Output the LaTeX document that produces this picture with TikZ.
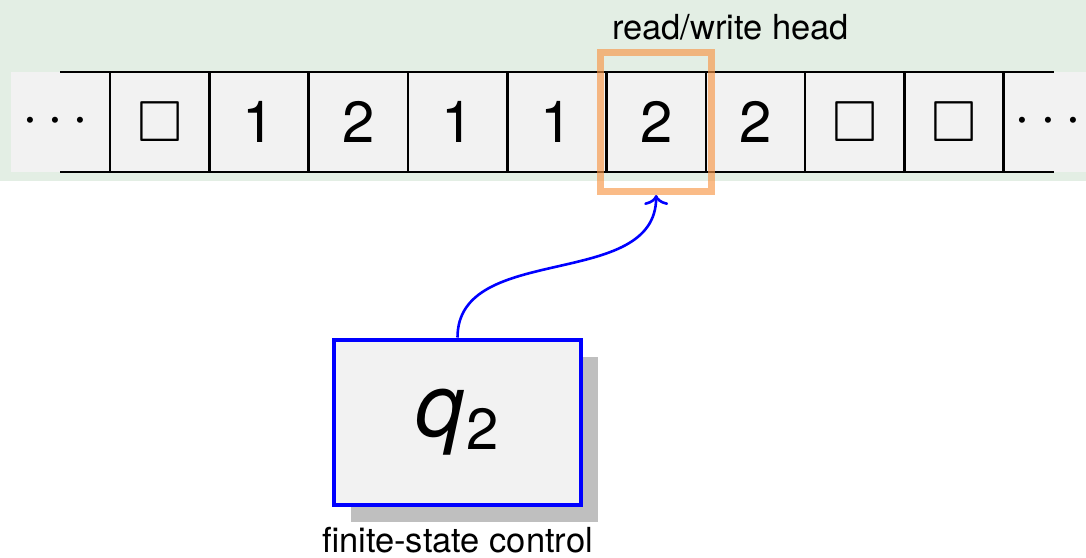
\documentclass[tikz,border=0pt]{standalone}
\usepackage{fontspec}
\setmainfont{TeX Gyre Heros}
\usepackage{amssymb}
\usepackage{graphicx}
\usetikzlibrary{shadows,arrows.meta}

\definecolor{tapebg}{RGB}{227,238,228}
\definecolor{cellgray}{RGB}{242,242,242}
\definecolor{headorange}{RGB}{247,150,70}
\newcommand\tapeblank{{\fontsize{58}{58}\selectfont$\square$}}
\newcommand\tapedotsym{\scalebox{5.7}{$\cdots$}}

\begin{document}
\begin{tikzpicture}[x=1pt,y=-1pt,
  cell/.style={draw, line width=2.6pt, minimum width=99.3pt, minimum height=100pt,
    inner sep=0pt, outer sep=0pt, font=\fontsize{58}{58}\selectfont},
  tapeline/.style={line width=2.6pt},
  tapedots/.style={inner sep=0pt, anchor=base},
  headbox/.style={draw=headorange, draw opacity=0.65, line width=7pt,
    minimum width=110.5pt, minimum height=139pt, inner sep=0pt},
  control/.style={draw=blue, line width=4pt, fill=cellgray, minimum width=247pt,
    minimum height=165pt, inner sep=0pt,
    drop shadow={shadow xshift=17pt, shadow yshift=-17pt, fill=black!25, opacity=1}},
  caption/.style={inner sep=0pt, font=\fontsize{34.5}{34.5}\selectfont},
  link/.style={draw=blue, line width=2.6pt, -{To[length=10pt,width=24pt]}}]
\useasboundingbox (0,0) rectangle (1086,557);

% tape background
\fill[tapebg] (0,0) rectangle (1086,181);
\fill[cellgray] (11,72) rectangle (1086,172);

% tape cells
\foreach \i/\s in {1/\tapeblank,2/1,3/2,4/1,5/1,6/2,7/2,8/\tapeblank,9/\tapeblank}
  \node[cell] (c\i) at ({110+99.3*(\i-0.5)},122) {\s};

% open ends of the tape
\coordinate (ltop) at ([xshift=-50pt]c1.north west);
\coordinate (lbot) at ([xshift=-50pt]c1.south west);
\coordinate (rtop) at ([xshift=50pt]c9.north east);
\coordinate (rbot) at ([xshift=50pt]c9.south east);
\draw[tapeline] (ltop) -- (c1.north west);
\draw[tapeline] (lbot) -- (c1.south west);
\draw[tapeline] (c9.north east) -- (rtop);
\draw[tapeline] (c9.south east) -- (rbot);
\node[tapedots] (ldots) at (55.5,134) {\tapedotsym};
\node[tapedots] (rdots) at (1048,134) {\tapedotsym};

% read/write head
\node[headbox] (head) at (c6) {};
\node[caption, anchor=base west] (headlabel) at (612,39) {read/write head};

% finite-state control
\node[control] (ctrl) at (457.5,422)
  {{\fontsize{88}{88}\selectfont\itshape q}\kern2pt\raisebox{-13pt}{\fontsize{58}{58}\selectfont 2}};
\node[caption, anchor=base] (ctrllabel) at (457.5,552) {finite-state control};

% link from control to head
\draw[link] (ctrl.north) .. controls +(0,-96) and +(0,96) .. (head.south);
\end{tikzpicture}
\end{document}
